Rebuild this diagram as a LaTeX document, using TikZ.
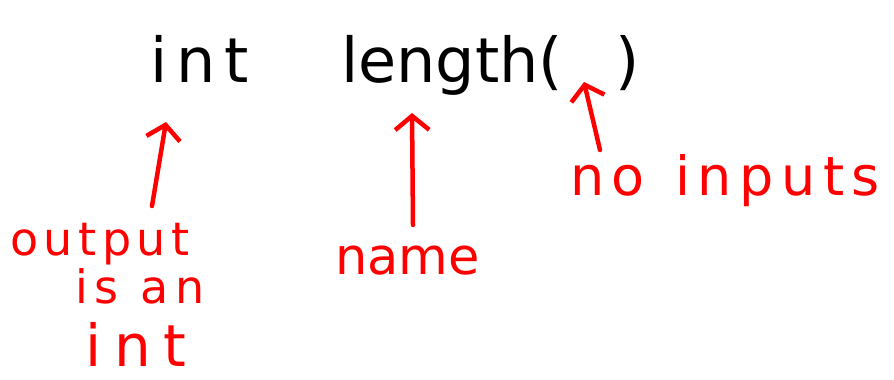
\documentclass[tikz,border=0pt]{standalone}
\usepackage{fontspec}
\setmainfont{DejaVu Sans}
\usetikzlibrary{arrows.meta}
\definecolor{inkred}{RGB}{255,0,0}
\tikzset{
  blk/.style={inner sep=0pt, anchor=base west, text=black},
  rd/.style={inner sep=0pt, anchor=base west, text=inkred},
  handarrow/.style={draw=inkred, line width=4.5pt, line cap=round, line join=round,
    -{Straight Barb[length=14pt,width=34pt,line width=4.5pt]}}
}
\begin{document}
\begin{tikzpicture}[x=1pt,y=-1pt]
\useasboundingbox (0,0) rectangle (894,380);
% black code line
\node[blk] (int) at (150,82) {\fontsize{62}{66}\selectfont\addfontfeatures{LetterSpace=14}int};
\node[blk] (len) at (341,82) {\fontsize{62}{66}\selectfont length(};
\node[blk] (rp) at (615,82) {\fontsize{62}{66}\selectfont )};
% red labels
\node[rd] (out) at (10,255) {\fontsize{46}{50}\selectfont\addfontfeatures{LetterSpace=12}output};
\node[rd] (isan) at (75,303) {\fontsize{46}{50}\selectfont\addfontfeatures{LetterSpace=15}is an};
\node[rd] (int2) at (85,366) {\fontsize{58}{62}\selectfont\addfontfeatures{LetterSpace=22}int};
\node[rd] (name) at (335,274) {\fontsize{51}{55}\selectfont name};
\node[rd] (noin) at (570,195) {\fontsize{54}{58}\selectfont\addfontfeatures{LetterSpace=14}no\hspace{30pt}inputs};
% arrow ends
\coordinate (a1s) at (152,206);
\coordinate (a1e) at (166,122);
\coordinate (a2s) at (413,225);
\coordinate (a2e) at (412,113);
\coordinate (a3s) at (600,150);
\coordinate (a3e) at (584,82);
\draw[handarrow] (a1s) -- (a1e);
\draw[handarrow] (a2s) -- (a2e);
\draw[handarrow] (a3s) -- (a3e);
\end{tikzpicture}
\end{document}
